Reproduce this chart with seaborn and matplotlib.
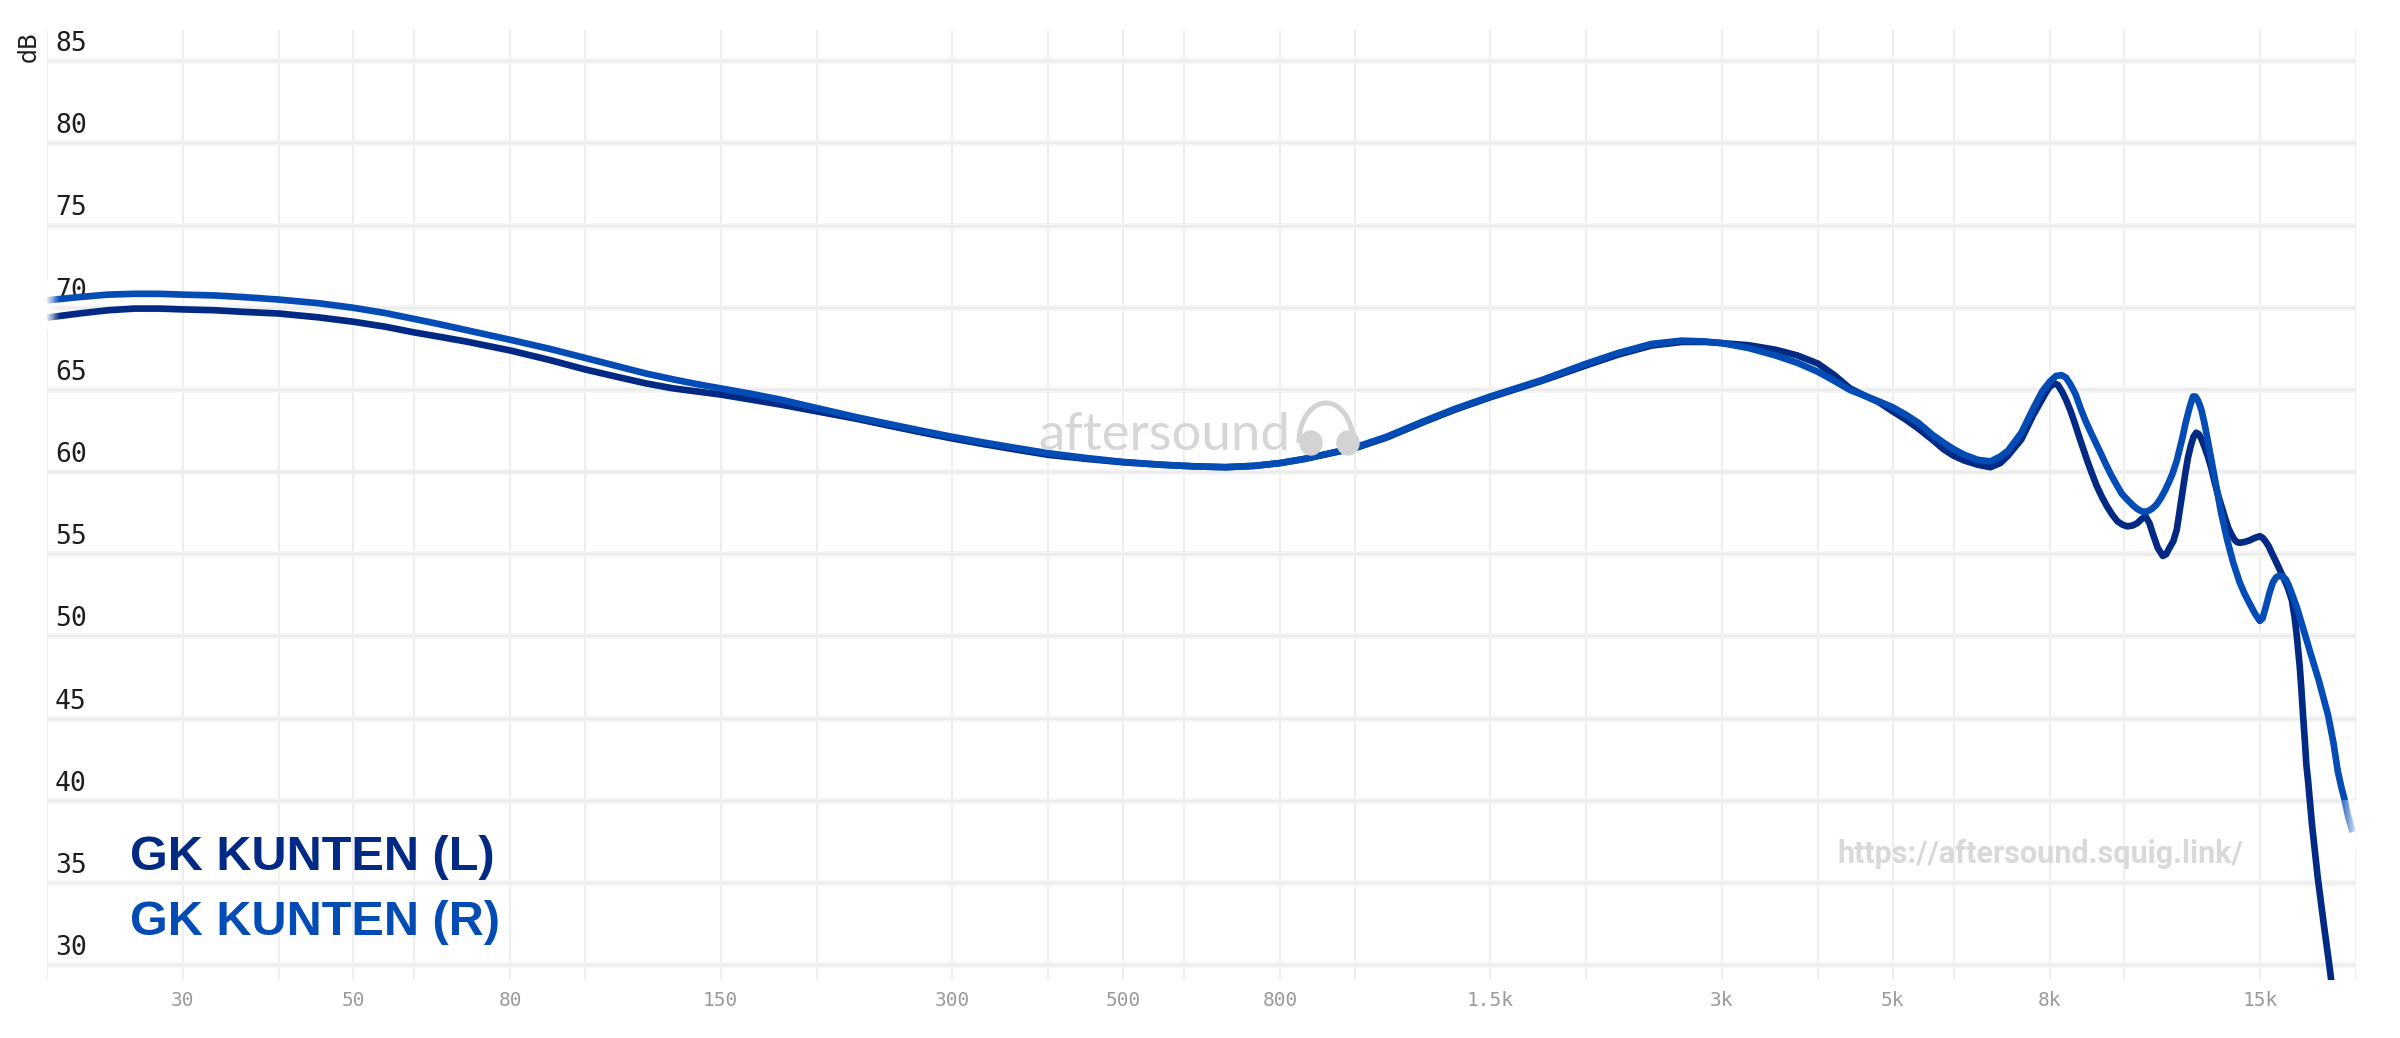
import numpy as np
import pandas as pd
import matplotlib
matplotlib.use("Agg")
import matplotlib.pyplot as plt
import seaborn as sns
from matplotlib.patches import Arc, Ellipse, Rectangle

# ---------------- data ----------------
freq_L = [20, 22, 24, 26, 28, 30, 33, 36, 40, 45, 50, 55, 60, 65, 70, 80, 90, 100, 110, 120,
          130, 140, 150, 165, 180, 200, 225, 250, 275, 300, 330, 360, 400, 450, 500, 560, 620,
          680, 740, 800, 860, 920, 1000, 1100, 1230, 1350, 1500, 1750, 2000, 2200, 2430, 2660,
          2850, 3000, 3250, 3520, 3760, 4000, 4200, 4400, 4600, 4800, 5000, 5200, 5400, 5640,
          5820, 6000, 6200, 6450, 6700, 6900, 7060, 7350, 7620, 7900, 8000, 8120, 8200, 8300,
          8400, 8510, 8620, 8730, 8840, 8950, 9080, 9200, 9350, 9500, 9650, 9800, 9950, 10090,
          10250, 10400, 10530, 10660, 10780, 10900, 11050, 11220, 11330, 11450, 11580, 11700,
          11850, 12000, 12100, 12200, 12300, 12400, 12500, 12600, 12720, 12850, 12980, 13100,
          13240, 13380, 13520, 13650, 13780, 13900, 14000, 14120, 14330, 14550, 14780, 15000,
          15130, 15250, 15400, 15540, 15800, 16090, 16300, 16510, 16640, 16740, 16820, 16900,
          16990, 17070, 17160, 17240, 17330, 17530, 17830, 18150, 18490, 18800]
spl_L = [69.4, 69.65, 69.85, 69.95, 69.95, 69.9, 69.85, 69.75, 69.65, 69.42, 69.15, 68.85,
         68.5, 68.22, 67.95, 67.4, 66.82, 66.25, 65.8, 65.4, 65.1, 64.9, 64.72, 64.4, 64.1,
         63.7, 63.25, 62.8, 62.4, 62.05, 61.7, 61.4, 61.05, 60.8, 60.6, 60.45, 60.35, 60.3,
         60.38, 60.55, 60.8, 61.1, 61.45, 62.1, 63.05, 63.8, 64.55, 65.55, 66.5, 67.15, 67.7,
         67.92, 67.92, 67.85, 67.72, 67.45, 67.1, 66.6, 65.9, 65.1, 64.65, 64.25, 63.7, 63.2,
         62.65, 61.95, 61.4, 61.0, 60.7, 60.45, 60.3, 60.55, 61.0, 62.0, 63.5, 64.8, 65.2,
         65.4, 65.3, 64.9, 64.4, 63.75, 63.0, 62.2, 61.45, 60.7, 59.9, 59.2, 58.5, 57.9, 57.4,
         57.0, 56.8, 56.7, 56.75, 56.9, 57.15, 57.3, 56.9, 56.2, 55.4, 54.9, 55.0, 55.4, 55.8,
         56.5, 58.2, 59.9, 60.9, 61.6, 62.15, 62.4, 62.3, 62.0, 61.5, 60.9, 60.2, 59.4, 58.6,
         57.9, 57.2, 56.6, 56.2, 55.9, 55.75, 55.7, 55.75, 55.85, 56.0, 56.1, 56.0, 55.8, 55.5,
         55.1, 54.4, 53.6, 53.0, 52.2, 51.2, 50.2, 49.2, 48.2, 46.7, 45.2, 43.7, 42.2, 41.2,
         38.6, 35.4, 32.6, 29.8, 27.0]

freq_R = [20, 22, 24, 26, 28, 30, 33, 36, 40, 45, 50, 55, 60, 65, 70, 80, 90, 100, 110, 120,
          130, 140, 150, 165, 180, 200, 225, 250, 275, 300, 330, 360, 400, 450, 500, 560, 620,
          680, 740, 800, 860, 920, 1000, 1100, 1230, 1350, 1500, 1750, 2000, 2200, 2430, 2660,
          2850, 3000, 3250, 3520, 3760, 4000, 4200, 4400, 4600, 4800, 5000, 5200, 5400, 5640,
          5820, 6000, 6200, 6450, 6700, 6900, 7060, 7350, 7620, 7820, 8000, 8150, 8290, 8400,
          8520, 8650, 8770, 8900, 9050, 9200, 9330, 9480, 9620, 9780, 9920, 10100, 10250,
          10400, 10550, 10700, 10850, 11000, 11150, 11300, 11430, 11550, 11700, 11800, 11900,
          12000, 12150, 12280, 12370, 12450, 12530, 12600, 12720, 12850, 12980, 13100, 13230,
          13350, 13480, 13600, 13850, 14120, 14330, 14550, 14780, 15000, 15120, 15250, 15350,
          15450, 15600, 15750, 15900, 16050, 16200, 16340, 16480, 16750, 17000, 17400, 17900,
          18400, 18700, 18940, 19150, 19300, 19550, 19800]
spl_R = [70.45, 70.65, 70.8, 70.85, 70.85, 70.8, 70.75, 70.65, 70.5, 70.28, 70.0, 69.68,
         69.32, 68.98, 68.65, 68.05, 67.5, 66.95, 66.45, 66.0, 65.65, 65.35, 65.1, 64.75, 64.4,
         63.9, 63.35, 62.9, 62.5, 62.15, 61.8, 61.5, 61.15, 60.85, 60.62, 60.45, 60.35, 60.3,
         60.38, 60.55, 60.8, 61.1, 61.5, 62.15, 63.1, 63.85, 64.6, 65.6, 66.6, 67.25, 67.8,
         68.0, 67.95, 67.85, 67.55, 67.1, 66.65, 66.1, 65.55, 65.0, 64.65, 64.3, 63.95, 63.5,
         63.0, 62.25, 61.8, 61.4, 61.05, 60.75, 60.65, 60.95, 61.3, 62.4, 63.9, 64.9, 65.5,
         65.85, 65.9, 65.75, 65.3, 64.7, 63.9, 63.15, 62.4, 61.7, 61.1, 60.4, 59.8, 59.2,
         58.7, 58.3, 58.0, 57.75, 57.6, 57.6, 57.75, 58.0, 58.4, 58.9, 59.4, 59.9, 60.7, 61.4,
         62.1, 62.9, 63.9, 64.6, 64.6, 64.4, 64.1, 63.75, 62.9, 61.8, 60.7, 59.7, 58.6, 57.6,
         56.7, 55.9, 54.5, 53.3, 52.6, 52.0, 51.4, 50.95, 51.1, 51.7, 52.2, 52.7, 53.3, 53.6,
         53.7, 53.65, 53.5, 53.15, 52.7, 51.8, 50.8, 49.2, 47.3, 45.2, 43.5, 41.8, 40.8, 40.2,
         39.0, 38.1]

names = ["GK KUNTEN (L)", "GK KUNTEN (R)"]
colors = ["#022a84", "#034cb6"]

grid_freqs = [20, 30, 40, 50, 60, 80, 100, 150, 200, 300, 400, 500, 600, 800, 1000, 1500,
              2000, 3000, 4000, 5000, 6000, 8000, 10000, 15000, 20000]
tick_freqs = [30, 50, 80, 150, 300, 500, 800, 1500, 3000, 5000, 8000, 15000]
tick_labels = ["30", "50", "80", "150", "300", "500", "800", "1.5k", "3k", "5k", "8k", "15k"]
db_ticks = [30, 35, 40, 45, 50, 55, 60, 65, 70, 75, 80, 85]

# ---------------- figure ----------------
sns.set_style("white")
plt.rcParams["font.family"] = ["DejaVu Sans"]

W, H = 2400, 1038
fig = plt.figure(figsize=(W / 100, H / 100), dpi=100)
ax = fig.add_axes([47 / W, 1 - 980 / H, (2356 - 47) / W, 950 / H])

df = pd.concat([
    pd.DataFrame({"freq": freq_L, "spl": spl_L, "name": names[0]}),
    pd.DataFrame({"freq": freq_R, "spl": spl_R, "name": names[1]}),
], ignore_index=True)

ax.set_xscale("log")
ax.set_xlim(20, 20000)
ax.set_ylim(29.1, 86.9)

# grid
for f in grid_freqs:
    ax.axvline(f, color="#ebebeb", lw=1.2, zorder=0)
for d in db_ticks:
    ax.axhline(d, color="#f5f5f5", lw=4.3, zorder=0)
    ax.axhline(d, color="#ececec", lw=1.5, zorder=0)

sns.lineplot(data=df, x="freq", y="spl", hue="name", hue_order=names,
             palette=dict(zip(names, colors)), estimator=None, sort=False,
             ax=ax, legend=False, zorder=3)
for ln in ax.get_lines()[-2:]:
    ln.set_linewidth(4.8)
    ln.set_solid_capstyle("butt")
    ln.set_solid_joinstyle("round")

# soft fade at the curve ends (as in the reference)
def fade(x0, x1, y0, y1, reverse=False, n=14):
    step = (x1 - x0) / n
    for i in range(n):
        a = 1 - (i + 0.5) / n
        if reverse:
            a = (i + 0.5) / n
        fig.add_artist(Rectangle((x0 + i * step, 1 - y1 / H), step * 1.05, (y1 - y0) / H,
                                 transform=fig.transFigure, color="white", alpha=a * 0.9,
                                 lw=0, zorder=4))

fade(47 / W, 60 / W, 280, 330)
fade(2338 / W, 2357 / W, 800, 850, reverse=True)

for s in ax.spines.values():
    s.set_visible(False)

ax.set_xticks(tick_freqs)
ax.set_xticklabels(tick_labels)
ax.xaxis.set_minor_locator(matplotlib.ticker.NullLocator())
ax.tick_params(axis="x", length=0, pad=8, labelsize=14, labelcolor="#9a9a9a")
for t in ax.get_xticklabels():
    t.set_family("DejaVu Sans Mono")
ax.set_yticks([])
ax.set_xlabel("")
ax.set_ylabel("")

# y labels inside plot
for d in db_ticks:
    ax.text(0.0035, d + 0.25, str(d), transform=ax.get_yaxis_transform(),
            ha="left", va="bottom", fontsize=19, color="#1e1e1e",
            family="DejaVu Sans Mono", zorder=2)

fig.text(29 / W, 1 - 46 / H, "dB", rotation=90, ha="center", va="center",
         fontsize=17, color="#1e1e1e")

# legend texts
fig.text(130 / W, 1 - 870 / H, names[0], color=colors[0], fontsize=35,
         fontweight="bold", family=["Liberation Sans", "DejaVu Sans"], va="baseline",
         ha="left")
fig.text(130 / W, 1 - 935 / H, names[1], color=colors[1], fontsize=35,
         fontweight="bold", family=["Liberation Sans", "DejaVu Sans"], va="baseline",
         ha="left")

# watermarks
wm = "#d3d3d3"
fig.text(1038 / W, 1 - 450 / H, "aftersound", color="#d6d6d6", fontsize=38,
         fontweight="normal", family=["Lato", "DejaVu Sans"], va="baseline", ha="left",
         zorder=1)
arc = Arc((1326 / W, 1 - 442 / H), 54 / W, 78 / H, theta1=-5, theta2=185,
          transform=fig.transFigure, color=wm, lw=3.6, zorder=1)
fig.add_artist(arc)
for cx in (1311, 1348):
    e = Ellipse((cx / W, 1 - 443 / H), 22 / W, 24 / H, transform=fig.transFigure,
                color=wm, zorder=1)
    fig.add_artist(e)

fig.text(1837 / W, 1 - 863 / H, "https://aftersound.squig.link/", color="#d9d9d9",
         fontsize=22, fontweight="bold", family=["Roboto", "DejaVu Sans"],
         va="baseline", ha="left")

fig.savefig("out.png", dpi=100, facecolor="white")
